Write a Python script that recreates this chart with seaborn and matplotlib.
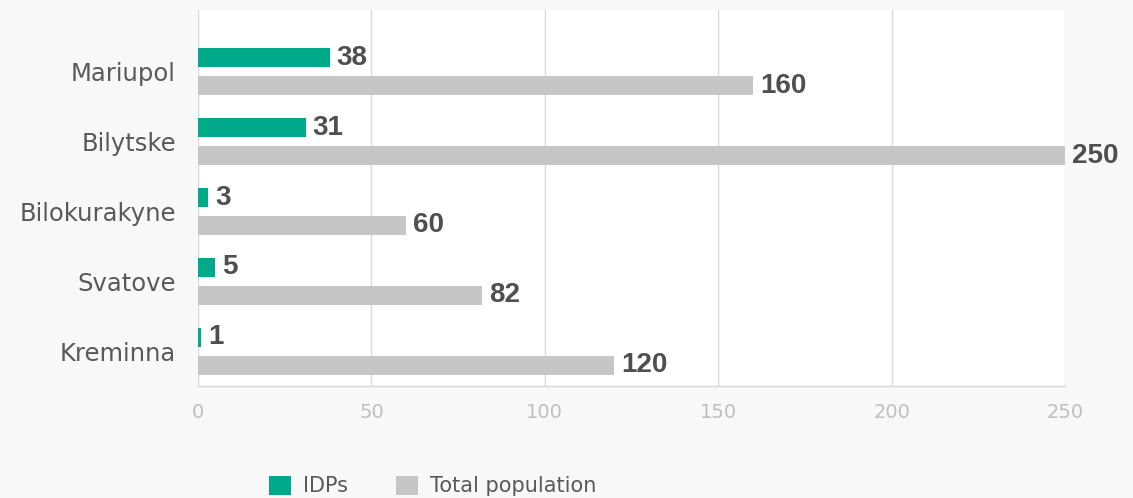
import matplotlib
matplotlib.use("Agg")
import matplotlib.pyplot as plt
import seaborn as sns
import pandas as pd

cities = ["Mariupol", "Bilytske", "Bilokurakyne", "Svatove", "Kreminna"]
idps = [38, 31, 3, 5, 1]
total_population = [160, 250, 60, 82, 120]
series_names = ["IDPs", "Total population"]
x_ticks = [0, 50, 100, 150, 200, 250]

df = pd.DataFrame({
    "city": cities * 2,
    "value": idps + total_population,
    "series": [series_names[0]] * len(cities) + [series_names[1]] * len(cities),
})

sns.set_theme(style="white")
plt.rcParams["font.family"] = ["DejaVu Sans"]

fig = plt.figure(figsize=(11.33, 4.98), dpi=100, facecolor="#f8f8f8")
ax = fig.add_axes([198 / 1133, 1 - 386 / 498, (1065 - 198) / 1133, (386 - 10) / 498])
ax.set_facecolor("white")

palette = {"IDPs": "#00a98a", "Total population": "#c6c6c6"}
sns.barplot(data=df, y="city", x="value", hue="series", orient="h",
            palette=palette, width=0.8, gap=0.32, ax=ax, saturation=1,
            order=cities, hue_order=series_names, linewidth=0)

for cont in ax.containers:
    ax.bar_label(cont, padding=5, fontsize=20, fontweight="bold",
                 color="#4f4f4f", family="Liberation Sans")

ax.set_xlim(0, 250)
ax.set_ylim(4 + 0.497, -0.884)
ax.set_xticks(x_ticks)
ax.grid(axis="x", color="#d9d9d9", linewidth=1.0)
ax.grid(axis="y", visible=False)
ax.set_axisbelow(True)
for s in ["top", "right", "left"]:
    ax.spines[s].set_visible(False)
ax.spines["bottom"].set_color("#d9d9d9")
ax.spines["bottom"].set_linewidth(1.0)
ax.tick_params(axis="x", length=0, pad=12, labelsize=14, labelcolor="#bfbfbf")
ax.tick_params(axis="y", length=0, pad=16, labelsize=17.5, labelcolor="#595959")
ax.set_xlabel("")
ax.set_ylabel("")

handles, labels = ax.get_legend_handles_labels()
if ax.get_legend() is not None:
    ax.get_legend().remove()
leg = fig.legend(handles, labels, loc="center", bbox_to_anchor=(0.382, 0.024),
                 ncol=2, frameon=False, fontsize=15, handlelength=1.05,
                 handleheight=1.05, handletextpad=0.6, columnspacing=2.3)
for t in leg.get_texts():
    t.set_color("#595959")

fig.savefig("out.png", dpi=100, facecolor=fig.get_facecolor())
